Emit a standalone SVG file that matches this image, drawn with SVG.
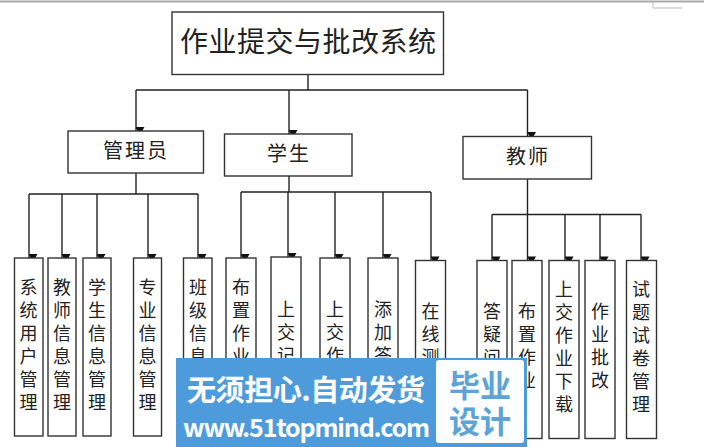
<svg xmlns="http://www.w3.org/2000/svg" width="704" height="447" viewBox="0 0 704 447">
<style>
text{font-family:"Noto Sans CJK SC","Liberation Sans",sans-serif;fill:#222}
.b{fill:#fff;stroke:#333;stroke-width:1.4}
.h{font-size:20px;text-anchor:middle}
.v{font-size:18px;writing-mode:vertical-rl;letter-spacing:5px}
.c{fill:none;stroke:#222;stroke-width:1.4}
.a{marker-end:url(#ah)}
.w{fill:#fff;font-weight:700}
.p{fill:#5da3d6;font-weight:700;text-anchor:middle;font-size:31px}
</style>
<defs><marker id="ah" markerUnits="userSpaceOnUse" markerWidth="9" markerHeight="9" refX="4.5" refY="8" orient="auto-start-reverse" viewBox="0 0 9 8"><path d="M4.5 8L0 0H9Z" fill="#111" transform="rotate(-90 4.5 4)"/></marker></defs>
<rect width="704" height="447" fill="#fff"/>
<path d="M0 1.5H704" stroke="#aaa" stroke-width="2"/>
<path d="M653 2V8H682" fill="none" stroke="#bbb"/>
<g id="connectors">
<path class="c" d="M308 75V90M136 90H527.5M136 173V194M29 194H198M289 176V192M241 192H431M527.5 179V214.5M492 214.5H641"/>
<path class="c a" d="M136 90V131"/><path class="c a" d="M289 90V134"/><path class="c a" d="M527.5 90V136"/>
<path class="c a" d="M29 194V258"/><path class="c a" d="M62 194V258"/><path class="c a" d="M97 194V258"/><path class="c a" d="M148 194V258"/><path class="c a" d="M198 194V258"/>
<path class="c a" d="M241 192V258"/><path class="c a" d="M288 192V257"/><path class="c a" d="M335 192V258"/><path class="c a" d="M383 192V258"/><path class="c a" d="M431 192V260.5"/>
<path class="c a" d="M492 214.5V260.5"/><path class="c a" d="M527.5 214.5V260.5"/><path class="c a" d="M565 214.5V260.5"/><path class="c a" d="M600 214.5V260.5"/><path class="c a" d="M641 214.5V260.5"/>
</g>
<g id="root"><rect class="b" x="172" y="12" width="271.500" height="62.500"/><text x="308" y="52" font-size="28" text-anchor="middle" textLength="256">作业提交与批改系统</text></g>
<g id="admin"><rect class="b" x="68" y="131" width="135.500" height="42"/><text class="h" x="135" y="158" textLength="64">管理员</text></g>
<g id="student"><rect class="b" x="224.500" y="134" width="127.500" height="42"/><text class="h" x="288" y="161" textLength="42">学生</text></g>
<g id="teacher"><rect class="b" x="463" y="136.500" width="128.500" height="42.500"/><text class="h" x="527" y="164" textLength="42">教师</text></g>
<g id="a1"><rect class="b" x="14.500" y="258" width="28.500" height="178"/><text class="v" x="28.500" y="278">系统用户管理</text></g>
<g id="a2"><rect class="b" x="48" y="258" width="28" height="178"/><text class="v" x="62" y="278">教师信息管理</text></g>
<g id="a3"><rect class="b" x="83" y="258" width="28" height="178"/><text class="v" x="97" y="278">学生信息管理</text></g>
<g id="a4"><rect class="b" x="133.500" y="258" width="28" height="178"/><text class="v" x="147.500" y="278">专业信息管理</text></g>
<g id="a5"><rect class="b" x="183.500" y="258" width="28.500" height="178"/><text class="v" x="198" y="278">班级信息</text></g>
<g id="s1"><rect class="b" x="226" y="258" width="30" height="178"/><text class="v" x="241" y="278">布置作业</text></g>
<g id="s2"><rect class="b" x="271" y="257" width="30" height="178"/><text class="v" x="286" y="300">上交记</text></g>
<g id="s3"><rect class="b" x="320" y="258" width="30" height="178"/><text class="v" x="335" y="300">上交作</text></g>
<g id="s4"><rect class="b" x="368" y="258" width="30" height="178"/><text class="v" x="383" y="300">添加答</text></g>
<g id="s5"><rect class="b" x="415.500" y="260.500" width="30" height="178"/><text class="v" x="430.500" y="302">在线测</text></g>
<g id="t1"><rect class="b" x="477" y="260.500" width="30" height="178"/><text class="v" x="492" y="302">答疑问</text></g>
<g id="t2"><rect class="b" x="512" y="260.500" width="30" height="178"/><text class="v" x="527" y="302">布置作业</text></g>
<g id="t3"><rect class="b" x="549" y="260.500" width="30" height="178"/><text class="v" x="564" y="280">上交作业下载</text></g>
<g id="t4"><rect class="b" x="585" y="260.500" width="30" height="178"/><text class="v" x="600" y="302">作业批改</text></g>
<g id="t5"><rect class="b" x="626.500" y="260.500" width="30" height="178"/><text class="v" x="641" y="280">试题试卷管理</text></g>
<g id="watermark">
<rect x="176" y="358" width="351" height="89" fill="#4d9bdb"/>
<rect x="436" y="360" width="88" height="83" rx="3" fill="#fcfdfe"/>
<text class="w" x="187" y="401" font-size="29" textLength="238">无须担心.自动发货</text>
<text class="w" x="183" y="437" font-size="25" textLength="247" font-family="Liberation Sans">www.51topmind.com</text>
<text class="p" x="480" y="397" textLength="62">毕业</text>
<text class="p" x="480" y="433" textLength="62">设计</text>
</g>
</svg>
